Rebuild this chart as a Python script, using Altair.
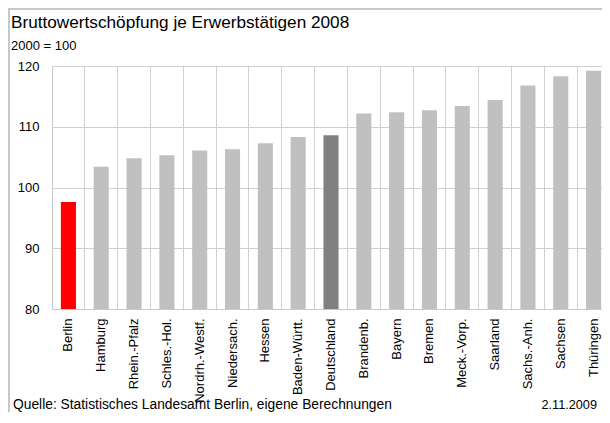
import altair as alt
import pandas as pd

categories = ["Berlin", "Hamburg", "Rhein.-Pfalz", "Schles.-Hol.", "Nordrh.-Westf.",
              "Niedersach.", "Hessen", "Baden-Württ.", "Deutschland", "Brandenb.",
              "Bayern", "Bremen", "Meck.-Vorp.", "Saarland", "Sachs.-Anh.",
              "Sachsen", "Thüringen"]
values = [97.6, 103.4, 104.8, 105.3, 106.1, 106.3, 107.3, 108.3, 108.6, 112.2,
          112.4, 112.7, 113.4, 114.4, 116.8, 118.3, 119.2]
groups = ["Berlin"] + ["Land"] * 7 + ["Deutschland"] + ["Land"] * 8
y_ticks = [80, 90, 100, 110, 120]

title_text = "Bruttowertschöpfung je Erwerbstätigen 2008"
subtitle_text = "2000 = 100"
source_text = "Quelle: Statistisches Landesamt Berlin, eigene Berechnungen"
date_text = "2.11.2009"

df = pd.DataFrame({"Land": categories, "Wert": values, "Gruppe": groups})

W, H = 550, 243      # visible plot area (page is 610 px wide)
RANGE_W = 558        # band range runs to the page edge like the original
FONT = "Liberation Sans"

x = alt.X("Land:N", sort=categories, title=None,
          scale=alt.Scale(paddingInner=0, paddingOuter=0, range=[0, RANGE_W]),
          axis=alt.Axis(orient="bottom", labelAngle=-90, labelAlign="right",
                        labelBaseline="middle",
                        labelFont=FONT, labelFontSize=13, labelColor="#000000",
                        labelPadding=9, ticks=False, bandPosition=0,
                        grid=True, gridColor="#D0D0D0", gridWidth=1,
                        domainColor="#C8C8C8", domainWidth=1))
y = alt.Y("Wert:Q", title=None,
          scale=alt.Scale(domain=[80, 120], nice=False, zero=False),
          axis=alt.Axis(values=y_ticks, labelFont=FONT, labelFontSize=13,
                        labelColor="#000000", labelPadding=13, ticks=False,
                        grid=True, gridColor="#D0D0D0", gridWidth=1,
                        domainColor="#C8C8C8", domainWidth=1))

bars = alt.Chart(df).mark_bar(width=alt.RelativeBandSize(0.46), clip=True).encode(
    x=x, y=y,
    color=alt.Color("Gruppe:N", legend=None,
                    scale=alt.Scale(domain=["Berlin", "Land", "Deutschland"],
                                    range=["#FF0000", "#C0C0C0", "#808080"])),
)

def txt(text, xpx, ypx, size, align="left", baseline="alphabetic"):
    return alt.Chart(pd.DataFrame({"t": [text]})).mark_text(
        align=align, baseline=baseline, font=FONT, fontSize=size, color="#000000"
    ).encode(text="t:N", x=alt.value(xpx), y=alt.value(ypx))

# offsets relative to the plot origin at page (52, 66)
title = txt(title_text, -41, -38, 17.2)
subtitle = txt(subtitle_text, -41, -16, 13)
source = txt(source_text, -39, 343, 13.8)
date = txt(date_text, W - 5, 343, 12.7, align="right")

frame_top = alt.Chart(pd.DataFrame({"a": [0]})).mark_rule(
    color="#C8C8C8", strokeWidth=2
).encode(x=alt.value(-44), x2=alt.value(W + 10), y=alt.value(-57))
frame_left = alt.Chart(pd.DataFrame({"a": [0]})).mark_rule(
    color="#C8C8C8", strokeWidth=2
).encode(x=alt.value(-43), y=alt.value(-57), y2=alt.value(360))

chart = alt.layer(frame_top, frame_left, bars, title, subtitle, source, date).properties(
    width=W, height=H,
    autosize=alt.AutoSizeParams(type="none"),
    padding={"left": 44, "top": 58, "right": 0, "bottom": 103},
    background="#FFFFFF",
).configure_view(strokeWidth=0)

chart.save("out.html", embed_options={"renderer": "svg", "actions": False})
